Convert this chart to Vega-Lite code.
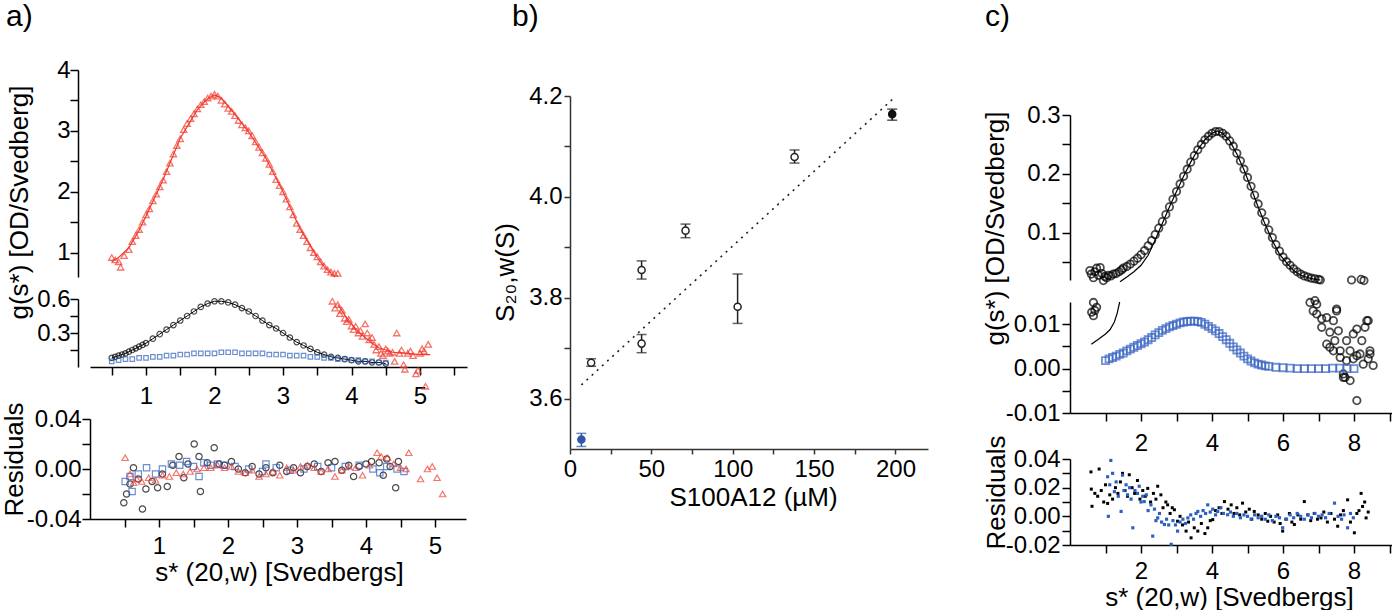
{
 "$schema": "https://vega.github.io/schema/vega-lite/v6.json",
 "padding": {"left": 0, "top": 2, "right": 0, "bottom": 0},
 "background": "white",
 "config": {
  "view": {"stroke": null},
  "font": "Liberation Sans",
  "axis": {"grid": false, "domainColor": "#000", "domainWidth": 1.5, "tickColor": "#000", "tickWidth": 1.5, "tickSize": 8,
   "labelFont": "Liberation Sans", "labelFontSize": 24, "labelColor": "#000", "labelPadding": 1, "labelOverlap": false, "labelFlush": false, "labelBound": false,
   "titleFont": "Liberation Sans", "titleFontSize": 26, "titleFontWeight": "normal", "titleColor": "#000"},
  "title": {"font": "Liberation Sans", "fontSize": 30, "fontWeight": "normal", "color": "#000"}
 },
 "datasets": {
  "aRed": [
   {"s":0.50,"v":0.92},{"s":0.55,"v":0.88},{"s":0.60,"v":0.85},{"s":0.63,"v":0.76},{"s":0.68,"v":0.95},{"s":0.75,"v":1.05},{"s":0.80,"v":1.18},{"s":0.85,"v":1.28},{"s":0.90,"v":1.38},{"s":0.95,"v":1.50},
   {"s":1.00,"v":1.62},{"s":1.05,"v":1.72},{"s":1.10,"v":1.85},{"s":1.15,"v":1.96},{"s":1.20,"v":2.08},{"s":1.25,"v":2.19},{"s":1.30,"v":2.33},{"s":1.35,"v":2.47},{"s":1.40,"v":2.62},{"s":1.45,"v":2.76},
   {"s":1.50,"v":2.87},{"s":1.55,"v":3.02},{"s":1.60,"v":3.12},{"s":1.65,"v":3.20},{"s":1.70,"v":3.28},{"s":1.75,"v":3.36},{"s":1.80,"v":3.43},{"s":1.85,"v":3.48},{"s":1.90,"v":3.54},{"s":1.95,"v":3.57},
   {"s":2.00,"v":3.60},{"s":2.05,"v":3.57},{"s":2.10,"v":3.50},{"s":2.15,"v":3.44},{"s":2.20,"v":3.37},{"s":2.25,"v":3.32},{"s":2.30,"v":3.25},{"s":2.35,"v":3.17},{"s":2.40,"v":3.10},{"s":2.45,"v":3.05},
   {"s":2.50,"v":3.00},{"s":2.55,"v":2.92},{"s":2.60,"v":2.82},{"s":2.65,"v":2.73},{"s":2.70,"v":2.64},{"s":2.75,"v":2.55},{"s":2.80,"v":2.45},{"s":2.85,"v":2.33},{"s":2.90,"v":2.20},{"s":2.95,"v":2.10},
   {"s":3.00,"v":2.00},{"s":3.05,"v":1.88},{"s":3.10,"v":1.75},{"s":3.15,"v":1.62},{"s":3.20,"v":1.48},{"s":3.25,"v":1.38},{"s":3.30,"v":1.28},{"s":3.35,"v":1.18},{"s":3.40,"v":1.08},{"s":3.45,"v":1.00},
   {"s":3.50,"v":0.93},{"s":3.55,"v":0.85},{"s":3.60,"v":0.78},{"s":3.65,"v":0.72},{"s":3.70,"v":0.68},{"s":3.75,"v":0.66},{"s":3.80,"v":0.66},
   {"s":3.72,"v":0.58},{"s":3.76,"v":0.52},{"s":3.80,"v":0.55},{"s":3.83,"v":0.47},{"s":3.86,"v":0.50},{"s":3.90,"v":0.43},{"s":3.93,"v":0.40},{"s":3.96,"v":0.42},{"s":4.00,"v":0.36},{"s":4.03,"v":0.33},
   {"s":4.06,"v":0.36},{"s":4.10,"v":0.30},{"s":4.13,"v":0.32},{"s":4.16,"v":0.27},{"s":4.20,"v":0.38},{"s":4.23,"v":0.30},{"s":4.26,"v":0.24},{"s":4.30,"v":0.26},{"s":4.33,"v":0.20},{"s":4.36,"v":0.15},
   {"s":4.40,"v":0.18},{"s":4.43,"v":0.12},{"s":4.46,"v":0.10},{"s":4.50,"v":0.16},{"s":4.53,"v":0.14},{"s":4.56,"v":0.12},{"s":4.60,"v":0.13},{"s":4.63,"v":0.05},{"s":4.66,"v":0.30},{"s":4.70,"v":0.12},
   {"s":4.73,"v":0.15},{"s":4.76,"v":0.02},{"s":4.78,"v":-0.02},{"s":4.82,"v":0.12},{"s":4.86,"v":0.14},{"s":4.90,"v":0.10},{"s":4.94,"v":-0.06},{"s":4.97,"v":-0.03},{"s":5.00,"v":0.12},{"s":5.03,"v":0.16},
   {"s":5.06,"v":0.14},{"s":5.08,"v":-0.17},{"s":5.12,"v":0.20}
  ],
  "aRedFit": [
   {"s":0.5,"v":0.85},{"s":0.6,"v":0.92},{"s":0.75,"v":1.08},{"s":0.9,"v":1.37},{"s":1.0,"v":1.6},{"s":1.25,"v":2.2},{"s":1.5,"v":2.88},{"s":1.75,"v":3.35},{"s":1.9,"v":3.53},{"s":2.0,"v":3.59},
   {"s":2.1,"v":3.54},{"s":2.25,"v":3.34},{"s":2.5,"v":2.98},{"s":2.75,"v":2.55},{"s":3.0,"v":2.0},{"s":3.25,"v":1.39},{"s":3.5,"v":0.92},{"s":3.6,"v":0.77},{"s":3.7,"v":0.66},{"s":3.76,"v":0.6},
   {"s":3.8,"v":0.55},{"s":3.9,"v":0.46},{"s":4.0,"v":0.38},{"s":4.1,"v":0.31},{"s":4.2,"v":0.26},{"s":4.3,"v":0.21},{"s":4.4,"v":0.17},{"s":4.5,"v":0.15},{"s":4.6,"v":0.13},{"s":4.8,"v":0.12},{"s":5.0,"v":0.11},{"s":5.15,"v":0.11}
  ],
  "aBlack": [
   {"s":0.50,"v":0.08},{"s":0.55,"v":0.09},{"s":0.60,"v":0.10},{"s":0.65,"v":0.11},{"s":0.70,"v":0.12},{"s":0.75,"v":0.135},{"s":0.80,"v":0.15},{"s":0.85,"v":0.165},{"s":0.90,"v":0.18},{"s":0.95,"v":0.195},
   {"s":1.0,"v":0.21},{"s":1.1,"v":0.25},{"s":1.2,"v":0.29},{"s":1.3,"v":0.33},{"s":1.4,"v":0.37},{"s":1.5,"v":0.41},{"s":1.6,"v":0.45},{"s":1.7,"v":0.49},{"s":1.8,"v":0.53},{"s":1.9,"v":0.56},
   {"s":2.0,"v":0.58},{"s":2.1,"v":0.58},{"s":2.2,"v":0.57},{"s":2.3,"v":0.55},{"s":2.4,"v":0.52},{"s":2.5,"v":0.49},{"s":2.6,"v":0.45},{"s":2.7,"v":0.41},{"s":2.8,"v":0.37},{"s":2.9,"v":0.34},
   {"s":3.0,"v":0.30},{"s":3.1,"v":0.26},{"s":3.2,"v":0.22},{"s":3.3,"v":0.19},{"s":3.4,"v":0.16},{"s":3.5,"v":0.13},{"s":3.6,"v":0.11},{"s":3.7,"v":0.09},{"s":3.8,"v":0.08},{"s":3.9,"v":0.07},
   {"s":4.0,"v":0.06},{"s":4.1,"v":0.05},{"s":4.2,"v":0.05},{"s":4.3,"v":0.04},{"s":4.4,"v":0.04},{"s":4.5,"v":0.03}
  ],
  "aBlue": [
   {"s":0.5,"v":0.05},{"s":0.6,"v":0.06},{"s":0.7,"v":0.07},{"s":0.8,"v":0.07},{"s":0.9,"v":0.08},{"s":1.0,"v":0.08},{"s":1.1,"v":0.09},{"s":1.2,"v":0.09},{"s":1.3,"v":0.10},{"s":1.4,"v":0.10},
   {"s":1.5,"v":0.11},{"s":1.6,"v":0.11},{"s":1.7,"v":0.12},{"s":1.8,"v":0.12},{"s":1.9,"v":0.12},{"s":2.0,"v":0.12},{"s":2.1,"v":0.13},{"s":2.2,"v":0.13},{"s":2.3,"v":0.13},{"s":2.4,"v":0.12},
   {"s":2.5,"v":0.12},{"s":2.6,"v":0.12},{"s":2.7,"v":0.12},{"s":2.8,"v":0.11},{"s":2.9,"v":0.11},{"s":3.0,"v":0.11},{"s":3.1,"v":0.10},{"s":3.2,"v":0.10},{"s":3.3,"v":0.10},{"s":3.4,"v":0.09},
   {"s":3.5,"v":0.09},{"s":3.6,"v":0.08},{"s":3.7,"v":0.08},{"s":3.8,"v":0.07},{"s":3.9,"v":0.07},{"s":4.0,"v":0.06},{"s":4.1,"v":0.06},{"s":4.2,"v":0.05},{"s":4.3,"v":0.05},{"s":4.4,"v":0.04},{"s":4.5,"v":0.04}
  ],
  "aResBlack": [
   {"s":0.49,"v":-0.027},{"s":0.53,"v":-0.020},{"s":0.58,"v":-0.012},{"s":0.63,"v":0.001},{"s":0.70,"v":-0.008},{"s":0.76,"v":-0.032},{"s":0.81,"v":-0.016},{"s":0.90,"v":-0.010},{"s":0.98,"v":-0.015},{"s":1.05,"v":-0.004},
   {"s":1.12,"v":-0.014},{"s":1.20,"v":0.003},{"s":1.29,"v":0.010},{"s":1.36,"v":-0.007},{"s":1.42,"v":0.004},{"s":1.51,"v":0.020},{"s":1.58,"v":0.010},{"s":1.60,"v":-0.018},{"s":1.70,"v":0.005},{"s":1.80,"v":0.017},
   {"s":1.87,"v":0.004},{"s":1.95,"v":0.003},{"s":2.05,"v":0.006},{"s":2.15,"v":0.000},{"s":2.25,"v":-0.003},{"s":2.35,"v":0.002},{"s":2.45,"v":-0.004},{"s":2.55,"v":0.001},{"s":2.65,"v":-0.003},{"s":2.75,"v":0.003},
   {"s":2.85,"v":-0.002},{"s":2.95,"v":0.001},{"s":3.05,"v":-0.003},{"s":3.15,"v":0.002},{"s":3.25,"v":0.004},{"s":3.35,"v":-0.002},{"s":3.45,"v":0.005},{"s":3.55,"v":0.006},{"s":3.65,"v":-0.001},{"s":3.75,"v":0.003},
   {"s":3.82,"v":-0.006},{"s":3.90,"v":0.002},{"s":4.00,"v":0.004},{"s":4.08,"v":0.006},{"s":4.19,"v":0.005},{"s":4.25,"v":-0.005},{"s":4.30,"v":0.008},{"s":4.35,"v":0.002},{"s":4.43,"v":-0.015},{"s":4.47,"v":0.006}
  ],
  "aResBlue": [
   {"s":0.51,"v":-0.010},{"s":0.58,"v":-0.006},{"s":0.61,"v":-0.018},{"s":0.70,"v":-0.004},{"s":0.82,"v":0.001},{"s":0.95,"v":-0.004},{"s":1.05,"v":0.000},{"s":1.18,"v":0.004},{"s":1.30,"v":0.003},{"s":1.40,"v":0.006},
   {"s":1.50,"v":0.002},{"s":1.58,"v":-0.006},{"s":1.65,"v":0.005},{"s":1.75,"v":0.003},{"s":1.85,"v":0.004},{"s":1.95,"v":0.003},{"s":2.1,"v":0.002},{"s":2.3,"v":0.000},{"s":2.5,"v":-0.002},{"s":2.55,"v":0.004},
   {"s":2.7,"v":0.001},{"s":2.9,"v":-0.001},{"s":3.1,"v":0.000},{"s":3.3,"v":0.002},{"s":3.5,"v":0.001},{"s":3.7,"v":0.002},{"s":3.9,"v":0.003},{"s":4.1,"v":0.000},{"s":4.2,"v":-0.003},{"s":4.3,"v":0.002},{"s":4.45,"v":0.000},{"s":4.55,"v":-0.002}
  ],
  "aResRed": [
   {"s":0.51,"v":0.009},{"s":0.58,"v":-0.004},{"s":0.63,"v":-0.011},{"s":0.68,"v":-0.008},{"s":0.75,"v":-0.010},{"s":0.85,"v":-0.007},{"s":0.95,"v":-0.009},{"s":1.05,"v":-0.005},{"s":1.15,"v":-0.006},{"s":1.25,"v":-0.003},
   {"s":1.35,"v":-0.004},{"s":1.45,"v":-0.002},{"s":1.55,"v":0.000},{"s":1.65,"v":0.001},{"s":1.75,"v":0.001},{"s":1.85,"v":0.003},{"s":1.95,"v":0.001},{"s":2.05,"v":0.002},{"s":2.15,"v":-0.002},{"s":2.25,"v":-0.003},
   {"s":2.35,"v":-0.001},{"s":2.45,"v":-0.006},{"s":2.55,"v":-0.004},{"s":2.65,"v":-0.002},{"s":2.75,"v":-0.005},{"s":2.85,"v":0.001},{"s":2.95,"v":-0.001},{"s":3.05,"v":0.002},{"s":3.15,"v":0.003},{"s":3.25,"v":0.001},
   {"s":3.35,"v":-0.002},{"s":3.45,"v":0.000},{"s":3.55,"v":-0.006},{"s":3.65,"v":-0.001},{"s":3.75,"v":0.002},{"s":3.85,"v":0.001},{"s":3.95,"v":-0.005},{"s":4.05,"v":0.003},{"s":4.16,"v":0.013},{"s":4.22,"v":0.010},
   {"s":4.31,"v":0.009},{"s":4.40,"v":0.004},{"s":4.50,"v":0.001},{"s":4.58,"v":0.000},{"s":4.62,"v":0.013},{"s":4.79,"v":-0.008},{"s":4.89,"v":0.000},{"s":4.96,"v":0.002},{"s":5.03,"v":-0.007},{"s":5.11,"v":-0.020}
  ],
  "bPts": [
   {"c":7,"v":3.519,"lo":3.505,"hi":3.531,"kind":"free"},
   {"c":13,"v":3.671,"lo":3.664,"hi":3.679,"kind":"titration"},
   {"c":44,"v":3.709,"lo":3.691,"hi":3.727,"kind":"titration"},
   {"c":44,"v":3.855,"lo":3.837,"hi":3.873,"kind":"titration"},
   {"c":71,"v":3.933,"lo":3.919,"hi":3.946,"kind":"titration"},
   {"c":103,"v":3.782,"lo":3.749,"hi":3.847,"kind":"titration"},
   {"c":138,"v":4.079,"lo":4.067,"hi":4.093,"kind":"titration"},
   {"c":198,"v":4.164,"lo":4.152,"hi":4.174,"kind":"saturated"}
  ],
  "bFit": [{"c":7,"v":3.627},{"c":198,"v":4.193}],
  "cBlack": [
   {"s":0.56,"v":0.036},{"s":0.60,"v":0.030},{"s":0.66,"v":0.024},{"s":0.70,"v":0.034},{"s":0.75,"v":0.040},{"s":0.80,"v":0.028},{"s":0.85,"v":0.041},{"s":0.90,"v":0.031},{"s":0.94,"v":0.019},{"s":0.98,"v":0.026},
   {"s":1.03,"v":0.024},{"s":1.08,"v":0.028},{"s":1.15,"v":0.027},{"s":1.22,"v":0.030},{"s":1.30,"v":0.031},{"s":1.38,"v":0.034},{"s":1.45,"v":0.037},{"s":1.5,"v":0.040},{"s":1.6,"v":0.043},{"s":1.7,"v":0.047},
   {"s":1.8,"v":0.052},{"s":1.9,"v":0.057},{"s":2.0,"v":0.063},{"s":2.1,"v":0.070},{"s":2.2,"v":0.078},{"s":2.3,"v":0.087},{"s":2.4,"v":0.097},{"s":2.5,"v":0.108},{"s":2.6,"v":0.119},{"s":2.7,"v":0.131},
   {"s":2.8,"v":0.144},{"s":2.9,"v":0.157},{"s":3.0,"v":0.170},{"s":3.1,"v":0.183},{"s":3.2,"v":0.196},{"s":3.3,"v":0.208},{"s":3.4,"v":0.220},{"s":3.5,"v":0.231},{"s":3.6,"v":0.241},{"s":3.7,"v":0.250},
   {"s":3.8,"v":0.258},{"s":3.9,"v":0.264},{"s":4.0,"v":0.269},{"s":4.1,"v":0.272},{"s":4.2,"v":0.272},{"s":4.3,"v":0.269},{"s":4.4,"v":0.264},{"s":4.5,"v":0.256},{"s":4.6,"v":0.247},{"s":4.7,"v":0.235},
   {"s":4.8,"v":0.222},{"s":4.9,"v":0.208},{"s":5.0,"v":0.194},{"s":5.1,"v":0.179},{"s":5.2,"v":0.164},{"s":5.3,"v":0.149},{"s":5.4,"v":0.134},{"s":5.5,"v":0.119},{"s":5.6,"v":0.105},{"s":5.7,"v":0.092},
   {"s":5.8,"v":0.080},{"s":5.9,"v":0.069},{"s":6.0,"v":0.059},{"s":6.1,"v":0.051},{"s":6.2,"v":0.045},{"s":6.3,"v":0.039},{"s":6.4,"v":0.034},{"s":6.5,"v":0.030},{"s":6.6,"v":0.027},{"s":6.7,"v":0.025},
   {"s":6.8,"v":0.023},{"s":6.9,"v":0.022},{"s":7.0,"v":0.021},{"s":7.05,"v":0.020},{"s":7.93,"v":0.020},{"s":8.20,"v":0.021},{"s":8.28,"v":0.019},
   {"s":0.66,"v":0.0149},{"s":0.75,"v":0.0138},{"s":0.61,"v":0.0127},{"s":0.66,"v":0.0119},{"s":0.70,"v":0.0131},
   {"s":6.76,"v":0.0149},{"s":6.85,"v":0.0130},{"s":6.90,"v":0.0153},{"s":6.95,"v":0.0145},{"s":6.95,"v":0.0123},{"s":7.09,"v":0.0112},{"s":7.09,"v":0.0093},{"s":7.23,"v":0.0115},{"s":7.23,"v":0.0055},{"s":7.32,"v":0.0082},
   {"s":7.32,"v":0.0048},{"s":7.42,"v":0.0108},{"s":7.42,"v":0.0040},{"s":7.46,"v":0.0063},{"s":7.51,"v":0.0130},{"s":7.51,"v":0.0134},{"s":7.56,"v":0.0085},{"s":7.61,"v":0.0040},{"s":7.61,"v":0.0025},{"s":7.70,"v":-0.0012},
   {"s":7.70,"v":-0.0020},{"s":7.75,"v":-0.0020},{"s":7.79,"v":0.0063},{"s":7.79,"v":0.0018},{"s":7.89,"v":0.0040},{"s":7.89,"v":-0.0027},{"s":7.98,"v":0.0078},{"s":7.98,"v":0.0022},{"s":8.08,"v":0.0089},{"s":8.08,"v":0.0029},
   {"s":8.08,"v":-0.0072},{"s":8.17,"v":0.0033},{"s":8.22,"v":0.0063},{"s":8.26,"v":0.0010},{"s":8.31,"v":0.0093},{"s":8.36,"v":0.0108},{"s":8.40,"v":0.0108},{"s":8.40,"v":0.0022},{"s":8.45,"v":0.0040},{"s":8.45,"v":0.0033},{"s":8.54,"v":0.0007}
  ],
  "cFit": [
   {"s":0.60,"v":0.0055},{"s":0.80,"v":0.0066},{"s":1.00,"v":0.0078},{"s":1.13,"v":0.0088},{"s":1.25,"v":0.0105},{"s":1.33,"v":0.0125},{"s":1.40,"v":0.0150},
   {"s":1.41,"v":0.017},{"s":1.6,"v":0.025},{"s":1.8,"v":0.034},{"s":2.0,"v":0.045},{"s":2.2,"v":0.062},{"s":2.4,"v":0.088},{"s":2.6,"v":0.116},{"s":2.8,"v":0.144},{"s":3.0,"v":0.170},
   {"s":3.2,"v":0.196},{"s":3.4,"v":0.220},{"s":3.6,"v":0.241},{"s":3.8,"v":0.258},{"s":4.0,"v":0.269},{"s":4.15,"v":0.273},{"s":4.3,"v":0.269},{"s":4.5,"v":0.256},{"s":4.7,"v":0.234},{"s":4.9,"v":0.207},
   {"s":5.1,"v":0.176},{"s":5.3,"v":0.144},{"s":5.5,"v":0.114},{"s":5.7,"v":0.087},{"s":5.9,"v":0.064},{"s":6.1,"v":0.049},{"s":6.3,"v":0.036},{"s":6.5,"v":0.028},{"s":6.7,"v":0.024},{"s":6.9,"v":0.021},{"s":7.05,"v":0.020}
  ],
  "cBlue": [
   {"s":1.0,"v":0.0018},{"s":1.1,"v":0.0022},{"s":1.2,"v":0.0025},{"s":1.3,"v":0.0028},{"s":1.4,"v":0.0032},{"s":1.5,"v":0.0035},{"s":1.6,"v":0.0040},{"s":1.7,"v":0.0044},{"s":1.8,"v":0.0048},{"s":1.9,"v":0.0052},
   {"s":2.0,"v":0.0056},{"s":2.1,"v":0.0060},{"s":2.2,"v":0.0065},{"s":2.3,"v":0.0070},{"s":2.4,"v":0.0076},{"s":2.5,"v":0.0081},{"s":2.6,"v":0.0086},{"s":2.7,"v":0.0090},{"s":2.8,"v":0.0094},{"s":2.9,"v":0.0097},
   {"s":3.0,"v":0.0100},{"s":3.1,"v":0.0103},{"s":3.2,"v":0.0105},{"s":3.3,"v":0.0106},{"s":3.4,"v":0.0107},{"s":3.5,"v":0.0107},{"s":3.6,"v":0.0106},{"s":3.7,"v":0.0104},{"s":3.8,"v":0.0100},{"s":3.9,"v":0.0095},
   {"s":4.0,"v":0.0090},{"s":4.1,"v":0.0085},{"s":4.2,"v":0.0079},{"s":4.3,"v":0.0072},{"s":4.4,"v":0.0065},{"s":4.5,"v":0.0057},{"s":4.6,"v":0.0049},{"s":4.7,"v":0.0042},{"s":4.8,"v":0.0035},{"s":4.9,"v":0.0028},
   {"s":5.0,"v":0.0022},{"s":5.1,"v":0.0017},{"s":5.2,"v":0.0013},{"s":5.3,"v":0.0010},{"s":5.4,"v":0.0008},{"s":5.5,"v":0.0006},{"s":5.6,"v":0.0005},{"s":5.8,"v":0.0003},{"s":6.0,"v":0.0002},{"s":6.2,"v":0.0001},
   {"s":6.4,"v":0.0000},{"s":6.6,"v":0.0000},{"s":6.8,"v":0.0000},{"s":7.0,"v":0.0000},{"s":7.2,"v":0.0000},{"s":7.4,"v":0.0001},{"s":7.6,"v":0.0001},{"s":7.8,"v":0.0000},{"s":8.0,"v":0.0000}
  ],
  "cResBlack": [
   {"s":0.59,"v":0.031},{"s":0.60,"v":0.019},{"s":0.62,"v":0.007},{"s":0.70,"v":0.016},{"s":0.78,"v":0.014},{"s":0.82,"v":0.033},{"s":0.88,"v":0.018},{"s":0.95,"v":0.010},{"s":1.00,"v":0.022},{"s":1.06,"v":0.009},
   {"s":1.12,"v":0.015},{"s":1.20,"v":0.012},{"s":1.28,"v":0.020},{"s":1.35,"v":0.016},{"s":1.42,"v":0.024},{"s":1.48,"v":0.030},{"s":1.55,"v":0.018},{"s":1.62,"v":0.014},{"s":1.67,"v":0.029},{"s":1.75,"v":0.020},
   {"s":1.82,"v":0.016},{"s":1.90,"v":0.025},{"s":1.97,"v":0.012},{"s":2.05,"v":0.018},{"s":2.12,"v":0.014},{"s":2.19,"v":0.0195},{"s":2.27,"v":0.010},{"s":2.35,"v":0.016},{"s":2.42,"v":0.012},{"s":2.47,"v":0.021},
   {"s":2.56,"v":0.015},{"s":2.62,"v":0.006},{"s":2.70,"v":0.010},{"s":2.75,"v":0.008},{"s":2.82,"v":0.002},{"s":2.88,"v":0.006},{"s":2.94,"v":0.0046},{"s":3.03,"v":-0.0034},{"s":3.10,"v":0.000},{"s":3.17,"v":-0.006},
   {"s":3.27,"v":-0.0103},{"s":3.34,"v":-0.004},{"s":3.41,"v":-0.015},{"s":3.50,"v":-0.008},{"s":3.60,"v":-0.0103},{"s":3.70,"v":-0.005},{"s":3.80,"v":-0.012},{"s":3.88,"v":-0.008},{"s":3.95,"v":-0.003},{"s":4.02,"v":-0.0023},
   {"s":4.10,"v":0.004},{"s":4.20,"v":0.006},{"s":4.28,"v":0.002},{"s":4.35,"v":0.0103},{"s":4.45,"v":0.005},{"s":4.54,"v":0.008},{"s":4.62,"v":0.002},{"s":4.70,"v":0.006},{"s":4.78,"v":0.001},{"s":4.86,"v":0.0092},
   {"s":4.95,"v":0.003},{"s":5.05,"v":0.005},{"s":5.12,"v":-0.002},{"s":5.19,"v":0.0034},{"s":5.30,"v":0.001},{"s":5.40,"v":-0.002},{"s":5.50,"v":0.002},{"s":5.57,"v":-0.0034},{"s":5.65,"v":0.000},{"s":5.75,"v":-0.004},
   {"s":5.85,"v":0.001},{"s":5.92,"v":-0.005},{"s":5.99,"v":-0.0103},{"s":6.08,"v":-0.002},{"s":6.18,"v":0.002},{"s":6.25,"v":-0.004},{"s":6.32,"v":-0.0057},{"s":6.42,"v":0.001},{"s":6.50,"v":-0.002},{"s":6.60,"v":0.0103},
   {"s":6.70,"v":0.001},{"s":6.78,"v":-0.003},{"s":6.88,"v":0.002},{"s":6.97,"v":-0.002},{"s":7.07,"v":-0.0011},{"s":7.15,"v":0.003},{"s":7.25,"v":-0.004},{"s":7.35,"v":0.002},{"s":7.45,"v":-0.002},{"s":7.54,"v":-0.0069},
   {"s":7.62,"v":0.001},{"s":7.70,"v":0.004},{"s":7.82,"v":0.0115},{"s":7.90,"v":-0.004},{"s":8.01,"v":-0.0115},{"s":8.08,"v":0.002},{"s":8.14,"v":0.004},{"s":8.20,"v":0.016},{"s":8.24,"v":0.0069},{"s":8.30,"v":0.010},{"s":8.34,"v":-0.0011},{"s":8.40,"v":0.003}
  ],
  "cResBlue": [
   {"s":1.06,"v":0.0276},{"s":1.08,"v":0.000},{"s":1.12,"v":0.022},{"s":1.15,"v":0.039},{"s":1.20,"v":0.030},{"s":1.25,"v":0.0172},{"s":1.30,"v":0.024},{"s":1.36,"v":0.014},{"s":1.44,"v":0.0034},{"s":1.48,"v":0.0287},
   {"s":1.52,"v":0.018},{"s":1.58,"v":0.022},{"s":1.62,"v":0.015},{"s":1.68,"v":0.020},{"s":1.72,"v":0.012},{"s":1.77,"v":-0.008},{"s":1.83,"v":0.018},{"s":1.90,"v":0.016},{"s":1.95,"v":0.021},{"s":2.00,"v":0.010},
   {"s":2.05,"v":0.014},{"s":2.09,"v":0.0103},{"s":2.15,"v":0.015},{"s":2.20,"v":0.004},{"s":2.28,"v":0.008},{"s":2.33,"v":-0.0138},{"s":2.38,"v":0.005},{"s":2.42,"v":-0.003},{"s":2.47,"v":-0.0011},{"s":2.52,"v":0.002},
   {"s":2.58,"v":-0.004},{"s":2.66,"v":-0.0057},{"s":2.72,"v":-0.002},{"s":2.78,"v":-0.006},{"s":2.85,"v":-0.0195},{"s":2.90,"v":-0.003},{"s":2.97,"v":-0.006},{"s":3.03,"v":-0.0103},{"s":3.10,"v":-0.004},{"s":3.18,"v":-0.002},
   {"s":3.25,"v":-0.005},{"s":3.32,"v":-0.0011},{"s":3.40,"v":0.001},{"s":3.48,"v":-0.002},{"s":3.55,"v":0.002},{"s":3.60,"v":0.0034},{"s":3.68,"v":0.000},{"s":3.75,"v":0.004},{"s":3.82,"v":0.002},{"s":3.88,"v":0.008},
   {"s":3.95,"v":0.003},{"s":4.02,"v":0.005},{"s":4.10,"v":0.001},{"s":4.16,"v":0.0034},{"s":4.25,"v":0.006},{"s":4.32,"v":0.002},{"s":4.44,"v":0.0011},{"s":4.52,"v":0.003},{"s":4.60,"v":0.000},{"s":4.70,"v":0.002},
   {"s":4.80,"v":-0.001},{"s":4.90,"v":0.001},{"s":5.00,"v":0.000},{"s":5.10,"v":-0.002},{"s":5.20,"v":0.001},{"s":5.30,"v":-0.001},{"s":5.40,"v":0.000},{"s":5.50,"v":-0.002},{"s":5.60,"v":0.001},{"s":5.70,"v":-0.003},
   {"s":5.80,"v":0.000},{"s":5.90,"v":-0.001},{"s":5.99,"v":-0.008},{"s":6.10,"v":-0.002},{"s":6.20,"v":0.001},{"s":6.30,"v":-0.001},{"s":6.40,"v":0.002},{"s":6.50,"v":0.000},{"s":6.60,"v":-0.002},{"s":6.70,"v":0.001},
   {"s":6.80,"v":-0.001},{"s":6.90,"v":0.002},{"s":7.00,"v":0.000},{"s":7.10,"v":0.001},{"s":7.20,"v":-0.001},{"s":7.30,"v":0.002},{"s":7.45,"v":0.0092},{"s":7.55,"v":0.000},{"s":7.65,"v":-0.002},{"s":7.72,"v":0.001},
   {"s":7.82,"v":-0.008},{"s":7.90,"v":0.002},{"s":7.98,"v":-0.001}
  ]
 },
 "spacing": 25,
 "hconcat": [
  {
   "spacing": 22, "bounds": "flush",
   "vconcat": [
    {"width": 377, "height": 17, "data": {"values": [{}]}, "mark": {"type": "point", "opacity": 0},
     "title": {"text": "a)", "anchor": "start", "frame": "group", "dx": -84, "offset": -25, "baseline": "alphabetic"}},
    {
     "width": 377, "height": 207,
     "encoding": {
      "x": {"field": "s", "type": "quantitative", "scale": {"domain": [0.1825, 5.686], "nice": false, "zero": false}, "axis": null},
      "y": {"field": "v", "type": "quantitative", "scale": {"domain": [0.6, 4], "nice": false, "zero": false},
            "axis": {"values": [1, 1.5, 2, 2.5, 3, 3.5, 4], "labelExpr": "datum.value % 1 == 0 ? format(datum.value,'d') : ''", "offset": 12, "labelPadding": 0,
                     "title": "g(s*) [OD/Svedberg]", "titleX": -46, "titleY": 132, "titleBaseline": "bottom", "titleAlign": "center", "titleAngle": 270}}
     },
     "layer": [
      {"data": {"name": "aRedFit"}, "transform": [{"filter": "datum.v >= 0.6"}], "mark": {"type": "line", "color": "#f23a2e", "strokeWidth": 1.2}},
      {"data": {"name": "aRed"}, "transform": [{"filter": "datum.v >= 0.6"}], "mark": {"type": "point", "shape": "triangle-up", "filled": false, "color": "#f23a2e", "size": 40, "strokeWidth": 1.3}}
     ]
    },
    {
     "width": 377, "height": 68,
     "encoding": {
      "x": {"field": "s", "type": "quantitative", "scale": {"domain": [0.1825, 5.686], "nice": false, "zero": false},
            "axis": {"values": [0.5, 1, 1.5, 2, 2.5, 3, 3.5, 4, 4.5, 5, 5.5], "labelExpr": "datum.value % 1 == 0 ? format(datum.value,'d') : ''", "labelPadding": 9, "title": null}},
      "y": {"field": "v", "type": "quantitative", "scale": {"domain": [0, 0.6], "nice": false, "zero": false},
            "axis": {"values": [0.15, 0.3, 0.45, 0.6], "labelExpr": "abs(datum.value - 0.3) < 1e-6 || abs(datum.value - 0.6) < 1e-6 ? format(datum.value,'.1f') : ''", "offset": 12, "labelPadding": 0, "title": null}}
     },
     "layer": [
      {"data": {"name": "aBlack"}, "mark": {"type": "line", "color": "#000", "strokeWidth": 1}},
      {"data": {"name": "aBlack"}, "mark": {"type": "point", "shape": "circle", "filled": false, "color": "#000", "size": 30, "strokeWidth": 1.2}},
      {"data": {"name": "aBlue"}, "mark": {"type": "point", "shape": "square", "filled": false, "color": "#2f5fbd", "size": 20, "strokeWidth": 1.2}},
      {"data": {"name": "aRedFit"}, "transform": [{"filter": "datum.v < 0.6"}], "mark": {"type": "line", "color": "#f23a2e", "strokeWidth": 1.2}},
      {"data": {"name": "aRed"}, "transform": [{"filter": "datum.v < 0.6"}], "mark": {"type": "point", "shape": "triangle-up", "filled": false, "color": "#f23a2e", "size": 40, "strokeWidth": 1.3}}
     ]
    },
    {"width": 377, "height": 8, "data": {"values": [{}]}, "mark": {"type": "point", "opacity": 0}},
    {
     "width": 376, "height": 100,
     "encoding": {
      "x": {"field": "s", "type": "quantitative", "scale": {"domain": [0, 5.449], "nice": false, "zero": false},
            "axis": {"values": [0.5, 1, 1.5, 2, 2.5, 3, 3.5, 4, 4.5, 5], "labelExpr": "datum.value % 1 == 0 ? format(datum.value,'d') : ''", "labelPadding": 7,
                     "title": "s* (20,w) [Svedbergs]", "titleX": 189, "titleY": 40, "titleBaseline": "top", "titleAlign": "center"}},
      "y": {"field": "v", "type": "quantitative", "scale": {"domain": [-0.04, 0.04], "nice": false, "zero": false},
            "axis": {"values": [-0.04, -0.02, 0, 0.02, 0.04], "labelExpr": "abs(datum.value) < 1e-6 || abs(abs(datum.value) - 0.04) < 1e-6 ? replace(format(datum.value,'.2f'),'\u2212','-') : ''", "labelPadding": 1,
                     "title": "Residuals", "titleX": -63, "titleY": 40, "titleBaseline": "bottom", "titleAlign": "center", "titleAngle": 270}}
     },
     "layer": [
      {"data": {"values": [{}]}, "mark": {"type": "rule", "color": "#000", "strokeWidth": 3, "strokeDash": [3, 14]},
       "encoding": {"x": {"datum": 0.25}, "x2": {"datum": 5.449}, "y": {"datum": 0}}},
      {"data": {"name": "aResBlack"}, "mark": {"type": "point", "shape": "circle", "filled": false, "color": "#000", "size": 40, "strokeWidth": 1.2}},
      {"data": {"name": "aResBlue"}, "mark": {"type": "point", "shape": "square", "filled": false, "color": "#2f5fbd", "size": 40, "strokeWidth": 1.2}},
      {"data": {"name": "aResRed"}, "mark": {"type": "point", "shape": "triangle-up", "filled": false, "color": "#f23a2e", "size": 40, "strokeWidth": 1.2}}
     ]
    }
   ]
  },
  {
   "spacing": 22, "bounds": "flush",
   "vconcat": [
    {"width": 386, "height": 43, "data": {"values": [{}]}, "mark": {"type": "point", "opacity": 0},
     "title": {"text": "b)", "anchor": "start", "frame": "group", "dx": -58, "offset": -25, "baseline": "alphabetic"}},
    {
     "width": 358, "height": 353,
     "encoding": {
      "x": {"field": "c", "type": "quantitative", "scale": {"domain": [0, 220], "nice": false, "zero": false},
            "axis": {"values": [0, 25, 50, 75, 100, 125, 150, 175, 200], "labelExpr": "datum.value % 50 == 0 ? format(datum.value,'d') : ''", "tickSize": 5, "labelPadding": 3,
                     "domainColor": "#333", "tickColor": "#333",
                     "title": "S100A12 (µM)", "titleX": 183, "titleY": 35, "titleBaseline": "top", "titleAlign": "center"}},
      "y": {"field": "v", "type": "quantitative", "scale": {"domain": [3.5, 4.2], "nice": false, "zero": false},
            "axis": {"values": [3.6, 3.7, 3.8, 3.9, 4.0, 4.1, 4.2], "labelExpr": "round(datum.value*10) % 2 == 0 ? format(datum.value,'.1f') : ''", "tickSize": 6, "labelPadding": 2,
                     "domainColor": "#333", "tickColor": "#333",
                     "title": "S₂₀,w(S)", "titleX": -52, "titleY": 176, "titleBaseline": "bottom", "titleAlign": "center", "titleAngle": 270}}
     },
     "layer": [
      {"data": {"name": "bFit"}, "mark": {"type": "line", "color": "#222", "strokeWidth": 1.6, "strokeDash": [2, 5]}},
      {"data": {"name": "bPts"}, "mark": {"type": "rule", "strokeWidth": 1.5},
       "encoding": {"y": {"field": "lo", "type": "quantitative"}, "y2": {"field": "hi"},
                    "color": {"field": "kind", "type": "nominal", "scale": {"domain": ["free", "titration", "saturated"], "range": ["#2f58aa", "#222222", "#111111"]}, "legend": null}}},
      {"data": {"name": "bPts"}, "mark": {"type": "tick", "orient": "horizontal", "size": 10, "thickness": 1.5},
       "encoding": {"y": {"field": "lo", "type": "quantitative"},
                    "color": {"field": "kind", "type": "nominal", "scale": {"domain": ["free", "titration", "saturated"], "range": ["#2f58aa", "#222222", "#111111"]}, "legend": null}}},
      {"data": {"name": "bPts"}, "mark": {"type": "tick", "orient": "horizontal", "size": 10, "thickness": 1.5},
       "encoding": {"y": {"field": "hi", "type": "quantitative"},
                    "color": {"field": "kind", "type": "nominal", "scale": {"domain": ["free", "titration", "saturated"], "range": ["#2f58aa", "#222222", "#111111"]}, "legend": null}}},
      {"data": {"name": "bPts"}, "mark": {"type": "point", "shape": "circle", "filled": true, "size": 50, "strokeWidth": 1.5, "opacity": 1},
       "encoding": {
        "fill": {"field": "kind", "type": "nominal", "scale": {"domain": ["free", "titration", "saturated"], "range": ["#2f58aa", "#ffffff", "#111111"]}, "legend": null},
        "stroke": {"field": "kind", "type": "nominal", "scale": {"domain": ["free", "titration", "saturated"], "range": ["#2f58aa", "#222222", "#111111"]}, "legend": null}}}
     ]
    }
   ]
  },
  {
   "spacing": 22, "bounds": "flush",
   "vconcat": [
    {"width": 322, "height": 62, "data": {"values": [{}]}, "mark": {"type": "point", "opacity": 0},
     "title": {"text": "c)", "anchor": "start", "frame": "group", "dx": -85, "offset": -25, "baseline": "alphabetic"}},
    {
     "width": 322, "height": 165,
     "encoding": {
      "x": {"field": "s", "type": "quantitative", "scale": {"domain": [0, 9.07], "nice": false, "zero": false}, "axis": null},
      "y": {"field": "v", "type": "quantitative", "scale": {"domain": [0.02, 0.3], "nice": false, "zero": false},
            "axis": {"values": [0.05, 0.1, 0.15, 0.2, 0.25, 0.3], "labelExpr": "round(datum.value*100) % 10 == 0 ? format(datum.value,'.1f') : ''", "labelPadding": 2,
                     "title": "g(s*) [OD/Svedberg]", "titleX": -62, "titleY": 113, "titleBaseline": "bottom", "titleAlign": "center", "titleAngle": 270}}
     },
     "layer": [
      {"data": {"name": "cFit"}, "transform": [{"filter": "datum.v >= 0.016"}], "mark": {"type": "line", "color": "#000", "strokeWidth": 1.2}},
      {"data": {"name": "cBlack"}, "transform": [{"filter": "datum.v >= 0.016"}], "mark": {"type": "point", "shape": "circle", "filled": false, "color": "#000", "size": 55, "strokeWidth": 1.8}},
      {"data": {"values": [{}]}, "mark": {"type": "rule", "color": "#000", "strokeWidth": 2},
       "encoding": {"x": {"datum": -0.2}, "x2": {"datum": 0.2}, "y": {"datum": 0.034}, "y2": {"datum": 0.005}}}
     ]
    },
    {
     "width": 322, "height": 111,
     "encoding": {
      "x": {"field": "s", "type": "quantitative", "scale": {"domain": [0, 9.07], "nice": false, "zero": false},
            "axis": {"values": [1, 2, 3, 4, 5, 6, 7, 8, 9], "labelExpr": "datum.value % 2 == 0 ? format(datum.value,'d') : ''", "labelPadding": 10, "title": null}},
      "y": {"field": "v", "type": "quantitative", "scale": {"domain": [-0.01, 0.015], "nice": false, "zero": false},
            "axis": {"values": [-0.01, -0.005, 0, 0.005, 0.01], "labelExpr": "round(datum.value*1000) % 10 == 0 ? replace(format(datum.value,'.2f'),'\u2212','-') : ''", "labelPadding": 2, "title": null}}
     },
     "layer": [
      {"data": {"values": [{}]}, "mark": {"type": "rule", "color": "#000", "strokeWidth": 3, "strokeDash": [3, 7]},
       "encoding": {"x": {"datum": 0.1}, "x2": {"datum": 9.07}, "y": {"datum": 0}}},
      {"data": {"name": "cBlack"}, "transform": [{"filter": "datum.v < 0.016"}], "mark": {"type": "point", "shape": "circle", "filled": false, "color": "#000", "size": 55, "strokeWidth": 1.8}},
      {"data": {"name": "cBlue"}, "mark": {"type": "point", "shape": "square", "filled": false, "color": "#3563c2", "size": 50, "strokeWidth": 1.8}},
      {"data": {"name": "cFit"}, "transform": [{"filter": "datum.v < 0.016"}], "mark": {"type": "line", "color": "#000", "strokeWidth": 1.2}},
      {"data": {"values": [{}]}, "mark": {"type": "rule", "color": "#000", "strokeWidth": 2},
       "encoding": {"x": {"datum": -0.2}, "x2": {"datum": 0.2}, "y": {"datum": 0.0168}, "y2": {"datum": 0.0138}}}
     ]
    },
    {"width": 322, "height": 2, "data": {"values": [{}]}, "mark": {"type": "point", "opacity": 0}},
    {
     "width": 322, "height": 86,
     "encoding": {
      "x": {"field": "s", "type": "quantitative", "scale": {"domain": [0, 9.07], "nice": false, "zero": false},
            "axis": {"values": [1, 2, 3, 4, 5, 6, 7, 8, 9], "labelExpr": "datum.value % 2 == 0 ? format(datum.value,'d') : ''", "labelPadding": 6,
                     "title": "s* (20,w) [Svedbergs]", "titleX": 159, "titleY": 39, "titleBaseline": "top", "titleAlign": "center"}},
      "y": {"field": "v", "type": "quantitative", "scale": {"domain": [-0.02, 0.04], "nice": false, "zero": false},
            "axis": {"values": [-0.02, -0.01, 0, 0.01, 0.02, 0.03, 0.04], "labelExpr": "round(datum.value*100) % 2 == 0 ? replace(format(datum.value,'.2f'),'\u2212','-') : ''", "labelPadding": 2,
                     "title": "Residuals", "titleX": -61, "titleY": 33, "titleBaseline": "bottom", "titleAlign": "center", "titleAngle": 270}}
     },
     "layer": [
      {"data": {"values": [{}]}, "mark": {"type": "rule", "color": "#000", "strokeWidth": 2.5, "strokeDash": [2.5, 5.5]},
       "encoding": {"x": {"datum": 0.15}, "x2": {"datum": 9.07}, "y": {"datum": 0}}},
      {"data": {"name": "cResBlack"}, "mark": {"type": "point", "shape": "square", "filled": true, "color": "#000", "size": 9, "opacity": 1}},
      {"data": {"name": "cResBlue"}, "mark": {"type": "point", "shape": "square", "filled": true, "color": "#2d5fc0", "size": 10, "opacity": 1}}
     ]
    }
   ]
  }
 ]
}
